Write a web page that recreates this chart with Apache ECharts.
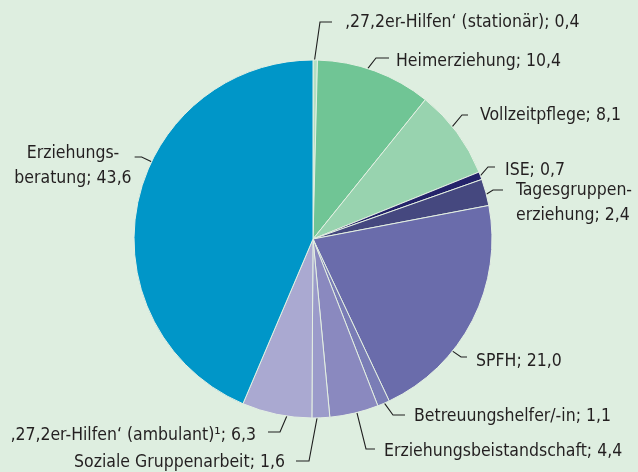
<!DOCTYPE html>
<html><head><meta charset="utf-8">
<script src="https://cdn.jsdelivr.net/npm/echarts@6/dist/echarts.min.js"></script>
<style>html,body{margin:0;padding:0;background:#deeee0;}#c{width:638px;height:472px;}</style>
</head><body><div id="c"></div>
<script>
const categories = [
  '‚27,2er-Hilfen‘ (stationär)',
  'Heimerziehung',
  'Vollzeitpflege',
  'ISE',
  'Tagesgruppen-\nerziehung',
  'SPFH',
  'Betreuungshelfer/-in',
  'Erziehungsbeistandschaft',
  'Soziale Gruppenarbeit',
  '‚27,2er-Hilfen‘ (ambulant)¹',
  'Erziehungs-\nberatung'
];
const values = [0.4, 10.4, 8.1, 0.7, 2.4, 21.0, 1.1, 4.4, 1.6, 6.3, 43.6];
const colors = ['#b4dfc3','#70c595','#98d3af','#24236a','#45487f','#6a6cab','#7a7db6','#8a89bf','#9b9bca','#aaa9d1','#0096c8'];

// label styling (layout only): [textX, textY, align]
const labelPos = [
  [345, 22, 'left'],
  [396, 61, 'left'],
  [480, 115, 'left'],
  [505, 170, 'left'],
  [516, 203, 'left'],
  [476, 361, 'left'],
  [414, 416, 'left'],
  [384, 451, 'left'],
  [285, 462, 'right'],
  [256, 435, 'right'],
  [73, 166, 'center']
];
// leader line styling: [angle on rim (deg, clockwise from top), gap to text, horizontal length, y offset]
const guide = [
  [0.5, 13, 12, 0],
  [17.8, 7, 13, -3],
  [51.1, 12, 6, 0],
  [69.3, 10, 7, -3],
  [75.5, 13, 10, -13],
  [128.8, 9, 6, -4],
  [156.5, 9, 12, -1],
  [165.8, 9, 9, -2],
  [178.7, 11, 13, -1],
  [188.4, 12, 12, -3],
  [295.6, 3, 7, -9]
];
const CX = 313, CY = 239, R = 179;

const chart = echarts.init(document.getElementById('c'));
const fmt = v => v.toFixed(1).replace('.', ',');
chart.setOption({
  backgroundColor: '#deeee0',
  animation: false,
  series: [{
    type: 'pie',
    center: [CX, CY],
    radius: [0, R],
    startAngle: 90,
    clockwise: true,
    data: categories.map((c, i) => ({ name: c, value: values[i], itemStyle: { color: colors[i] } })),
    itemStyle: { borderColor: '#e4f0e3', borderWidth: 1 },
    label: {
      show: true,
      overflow: 'none',
      formatter: p => p.name + '; ' + fmt(p.value),
      fontFamily: "'DejaVu Sans Condensed', sans-serif",
      fontSize: 17.5,
      lineHeight: 25,
      color: '#231f20',
      padding: 0
    },
    labelLine: { show: true, length: 10, length2: 11, lineStyle: { color: '#1e1e1e', width: 1.1 } },
    labelLayout: p => {
      const i = p.dataIndex;
      const lp = labelPos[i], g = guide[i];
      const a = g[0] * Math.PI / 180;
      const rim = [CX + R * Math.sin(a), CY - R * Math.cos(a)];
      const ly = lp[1] + g[3];
      let end, elbow;
      if (lp[2] === 'left') {
        end = [lp[0] - g[1], ly]; elbow = [end[0] - g[2], ly];
      } else if (lp[2] === 'right') {
        end = [lp[0] + g[1], ly]; elbow = [end[0] + g[2], ly];
      } else {
        const right = lp[0] + p.labelRect.width / 2;
        end = [right + g[1], ly]; elbow = [end[0] + g[2], ly];
      }
      return { x: lp[0], y: lp[1], align: lp[2], verticalAlign: 'middle', hideOverlap: false,
               labelLinePoints: [rim, elbow, end] };
    },
    emphasis: { disabled: true }
  }]
});
</script></body></html>
